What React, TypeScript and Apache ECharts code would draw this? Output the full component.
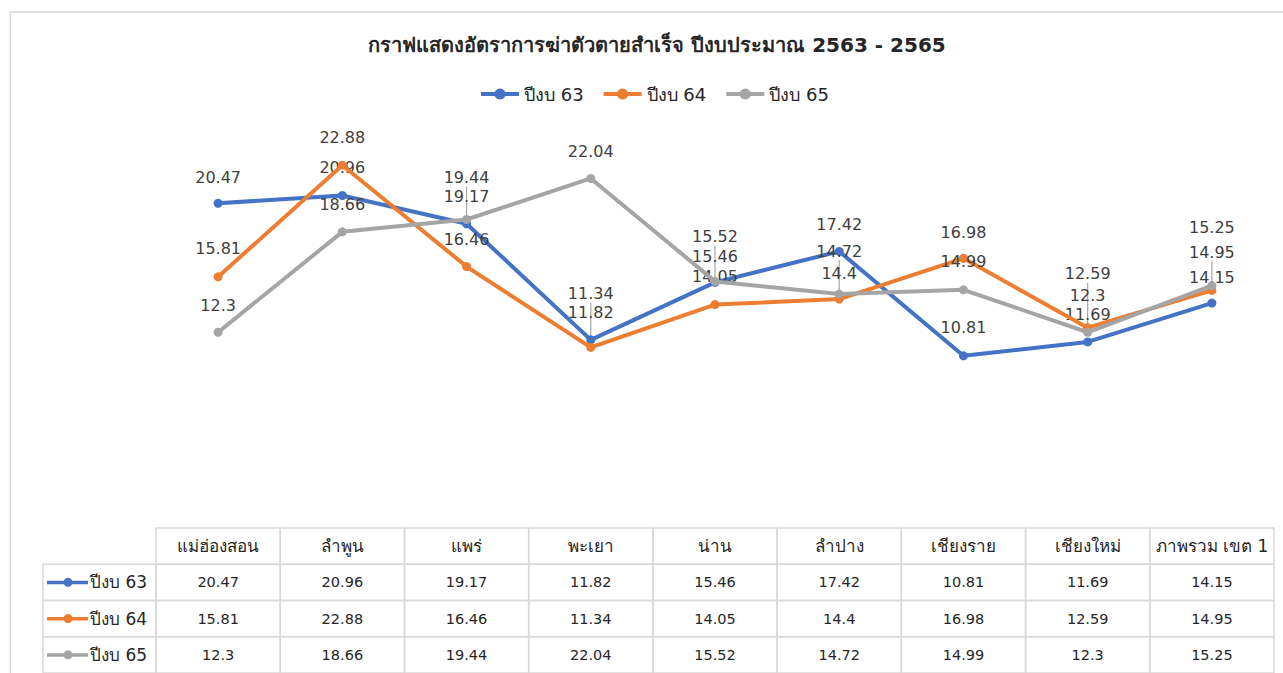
import React, { useEffect, useRef } from "react";
import * as echarts from "echarts";

// ---- data ----
const categories = ["แม่ฮ่องสอน", "ลำพูน", "แพร่", "พะเยา", "น่าน", "ลำปาง", "เชียงราย", "เชียงใหม่", "ภาพรวม เขต 1"];
const seriesNames = ["ปีงบ 63", "ปีงบ 64", "ปีงบ 65"];
const fy63 = [20.47, 20.96, 19.17, 11.82, 15.46, 17.42, 10.81, 11.69, 14.15];
const fy64 = [15.81, 22.88, 16.46, 11.34, 14.05, 14.4, 16.98, 12.59, 14.95];
const fy65 = [12.3, 18.66, 19.44, 22.04, 15.52, 14.72, 14.99, 12.3, 15.25];
const titleText = "กราฟแสดงอัตราการฆ่าตัวตายสำเร็จ ปีงบประมาณ 2563 - 2565";

// ---- styling / layout (not data) ----
const colors = ["#4472C4", "#ED7D31", "#A5A5A5"];
const labelDy = [
  [-26, -28, -27, -27, -26, -27, -28, -27, -26],
  [-28, -28, -27, -54, -28, -26, -26, -54, -38],
  [-27, -27, -42, -27, -45, -43, -28, -37, -58],
];
const leader = [
  [false, false, false, false, false, false, false, false, false],
  [false, false, false, true, false, false, false, true, true],
  [false, false, true, false, true, true, false, false, false],
];
const FONT = "Tahoma, 'DejaVu Sans', sans-serif";
const HEADER_MIN = -0.91;

export default function App() {
  const ref = useRef<HTMLDivElement>(null);
  useEffect(() => {
    if (!ref.current) return;
    const chart = echarts.init(ref.current, undefined, { renderer: "svg" });
    const allData = [fy63, fy64, fy65];

    // table cells built from the arrays
    type Cell = { c: number; r: number; text: string; kind: string; s?: number };
    const cells: Cell[] = [];
    categories.forEach((cat, i) => cells.push({ c: i, r: 0, text: cat, kind: "head" }));
    allData.forEach((arr, s) => {
      cells.push({ c: -1, r: s + 1, text: seriesNames[s], kind: "row", s });
      arr.forEach((v, i) => cells.push({ c: i, r: s + 1, text: String(v), kind: "val" }));
    });

    // leader lines for labels that sit far above their point
    const leaders: number[][] = [];
    allData.forEach((arr, s) =>
      arr.forEach((v, i) => {
        if (leader[s][i]) leaders.push([i, v, labelDy[s][i]]);
      })
    );

    const lineSeries = allData.map((arr, s) => ({
      name: seriesNames[s],
      type: "line",
      xAxisIndex: 0,
      yAxisIndex: 0,
      data: arr.map((v, i) => ({
        value: v,
        label: { offset: [0, labelDy[s][i]] },
      })),
      symbol: "circle",
      symbolSize: 9,
      lineStyle: { width: 4, color: colors[s] },
      itemStyle: { color: colors[s] },
      label: {
        show: true,
        position: "inside",
        fontSize: 16,
        fontFamily: FONT,
        color: "#404040",
      },
      z: 3 + s,
    }));

    const option: any = {
      animation: false,
      backgroundColor: "#ffffff",
      color: colors,
      title: {
        text: titleText,
        left: 652,
        textAlign: "center",
        top: 30,
        textStyle: { fontSize: 20, fontWeight: "bold", fontFamily: FONT, color: "#262626" },
      },
      legend: {
        data: seriesNames,
        left: 474,
        top: 80,
        itemWidth: 38,
        itemHeight: 14,
        itemGap: 18,
        lineStyle: { width: 4 },
        textStyle: { fontSize: 18, fontFamily: FONT, color: "#262626" },
      },
      grid: [
        { left: 156, right: 9, top: 131.7, height: 394.8 },
        { left: 43, right: 9, top: 528, height: 146 },
      ],
      xAxis: [
        {
          type: "category",
          gridIndex: 0,
          data: categories,
          boundaryGap: true,
          axisLine: { show: false },
          axisTick: { show: false },
          axisLabel: { show: false },
          splitLine: { show: false },
        },
        {
          type: "value",
          gridIndex: 1,
          min: HEADER_MIN,
          max: categories.length,
          show: false,
        },
      ],
      yAxis: [
        { type: "value", gridIndex: 0, min: 0, max: 25, show: false, splitLine: { show: false } },
        { type: "value", gridIndex: 1, min: 0, max: 4, inverse: true, show: false },
      ],
      series: [
        {
          type: "custom",
          xAxisIndex: 0,
          yAxisIndex: 0,
          data: leaders,
          silent: true,
          z: 2,
          renderItem: (params: any, api: any) => {
            const p = api.coord([api.value(0), api.value(1)]);
            const dy = api.value(2);
            return {
              type: "line",
              shape: { x1: p[0], y1: p[1] + dy + 9, x2: p[0], y2: p[1] - 2 },
              style: { stroke: "#A5A5A5", lineWidth: 1.2 },
            };
          },
        },
        ...lineSeries,
        {
          type: "custom",
          xAxisIndex: 1,
          yAxisIndex: 1,
          data: cells.map((cl) => [cl.c, cl.r]),
          renderItem: (params: any, api: any) => {
            const cell = cells[params.dataIndex];
            const c = api.value(0);
            const r = api.value(1);
            const x0v = c < 0 ? HEADER_MIN : c;
            const x1v = c < 0 ? 0 : c + 1;
            const p0 = api.coord([x0v, r]);
            const p1 = api.coord([x1v, r + 1]);
            const w = p1[0] - p0[0];
            const h = p1[1] - p0[1];
            const cy = p0[1] + h / 2;
            const children: any[] = [
              {
                type: "rect",
                shape: { x: p0[0], y: p0[1], width: w, height: h },
                style: { fill: "none", stroke: "#D9D9D9", lineWidth: 1.5 },
              },
            ];
            if (cell.kind === "row") {
              const col = colors[cell.s as number];
              children.push({
                type: "line",
                shape: { x1: p0[0] + 4, y1: cy, x2: p0[0] + 45, y2: cy },
                style: { stroke: col, lineWidth: 3.5 },
              });
              children.push({
                type: "circle",
                shape: { cx: p0[0] + 25, cy, r: 4.5 },
                style: { fill: col },
              });
              children.push({
                type: "text",
                style: {
                  text: cell.text,
                  x: p0[0] + 47,
                  y: cy,
                  align: "left",
                  verticalAlign: "middle",
                  font: `17px ${FONT}`,
                  fill: "#262626",
                },
              });
            } else {
              const isHead = cell.kind === "head";
              children.push({
                type: "text",
                style: {
                  text: cell.text,
                  x: p0[0] + w / 2,
                  y: cy,
                  align: "center",
                  verticalAlign: "middle",
                  font: isHead ? `17px ${FONT}` : `14.5px ${FONT}`,
                  fill: "#262626",
                },
              });
            }
            return { type: "group", children };
          },
          z: 1,
          silent: true,
        },
      ],
      graphic: [
        {
          type: "rect",
          shape: { x: 10.5, y: 12, width: 1300, height: 700 },
          style: { fill: "none", stroke: "#D9D9D9", lineWidth: 1.5 },
          silent: true,
          z: -1,
        },
      ],
    };
    chart.setOption(option);
    return () => chart.dispose();
  }, []);
  return (
    <div
      ref={ref}
      style={{ position: "absolute", left: 0, top: 0, width: 1283, height: 673 }}
    />
  );
}
